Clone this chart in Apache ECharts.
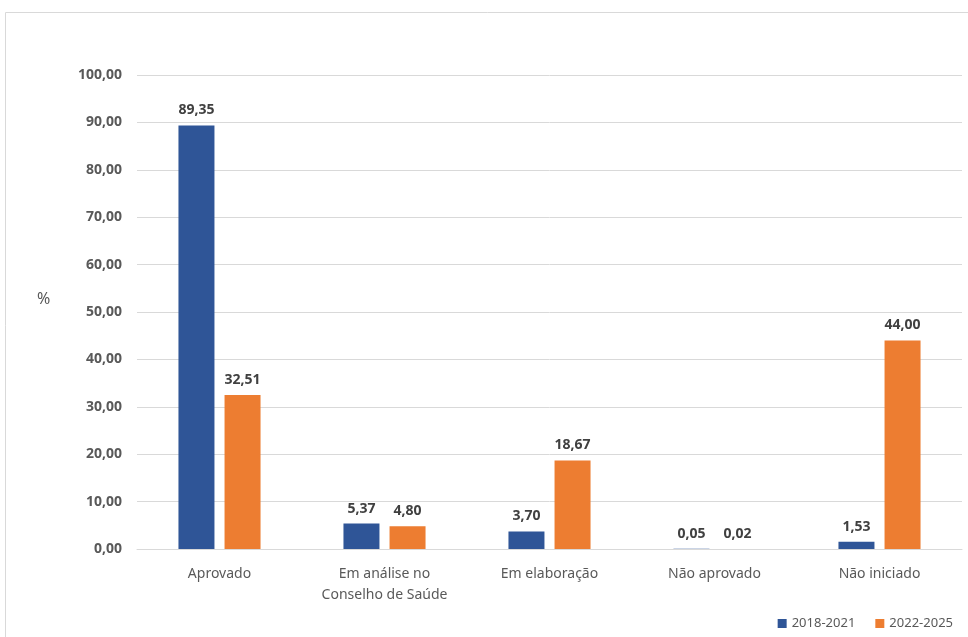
<!DOCTYPE html>
<html><head><meta charset="utf-8">
<script src="https://cdn.jsdelivr.net/npm/echarts@6/dist/echarts.min.js"></script>
<style>html,body{margin:0;padding:0;background:#fff}#c{width:968px;height:637px}</style>
</head><body><div id="c"></div>
<script>
const categories = ['Aprovado', 'Em análise no\nConselho de Saúde', 'Em elaboração', 'Não aprovado', 'Não iniciado'];
const series2018 = [89.35, 5.37, 3.70, 0.05, 1.53];
const series2022 = [32.51, 4.80, 18.67, 0.02, 44.00];
const seriesNames = ['2018-2021', '2022-2025'];
const fmt = v => v.toFixed(2).replace('.', ',');
const font = 'Noto Sans';
const chart = echarts.init(document.getElementById('c'));
chart.setOption({
  animation: false,
  textStyle: { fontFamily: font },
  graphic: [{ type: 'rect', shape: { x: 5.5, y: 12.5, width: 1000, height: 700 }, style: { fill: 'none', stroke: '#d9d9d9', lineWidth: 1 }, silent: true },
            { type: 'text', left: 37, top: 291, style: { text: '%', fontSize: 16, fill: '#595959', fontFamily: font } }],
  grid: { left: 137, right: 6, top: 75, bottom: 88 },
  legend: { right: 10, bottom: 2, itemWidth: 9, itemHeight: 9, itemGap: 20, icon: 'rect',
    textStyle: { fontSize: 13, color: '#595959', fontFamily: font }, data: seriesNames },
  xAxis: { type: 'category', data: categories,
    axisLine: { lineStyle: { color: '#d9d9d9' } }, axisTick: { show: false },
    axisLabel: { color: '#595959', fontSize: 14, margin: 15, lineHeight: 21, interval: 0, fontFamily: font } },
  yAxis: { type: 'value', min: 0, max: 100, interval: 10,
    axisLabel: { formatter: fmt, color: '#595959', fontSize: 14, fontWeight: 'bold', margin: 15, fontFamily: font },
    splitLine: { lineStyle: { color: '#d9d9d9' } }, axisLine: { show: false }, axisTick: { show: false } },
  series: [
    { name: seriesNames[0], type: 'bar', data: series2018, barWidth: 36, barGap: '28%',
      itemStyle: { color: '#2F5597' },
      label: { show: true, position: 'top', formatter: p => fmt(p.value), color: '#404040', fontWeight: 'bold', fontSize: 14, distance: 8, fontFamily: font } },
    { name: seriesNames[1], type: 'bar', data: series2022, barWidth: 36,
      itemStyle: { color: '#ED7D31' },
      label: { show: true, position: 'top', formatter: p => fmt(p.value), color: '#404040', fontWeight: 'bold', fontSize: 14, distance: 8, fontFamily: font } }
  ]
});
</script></body></html>
